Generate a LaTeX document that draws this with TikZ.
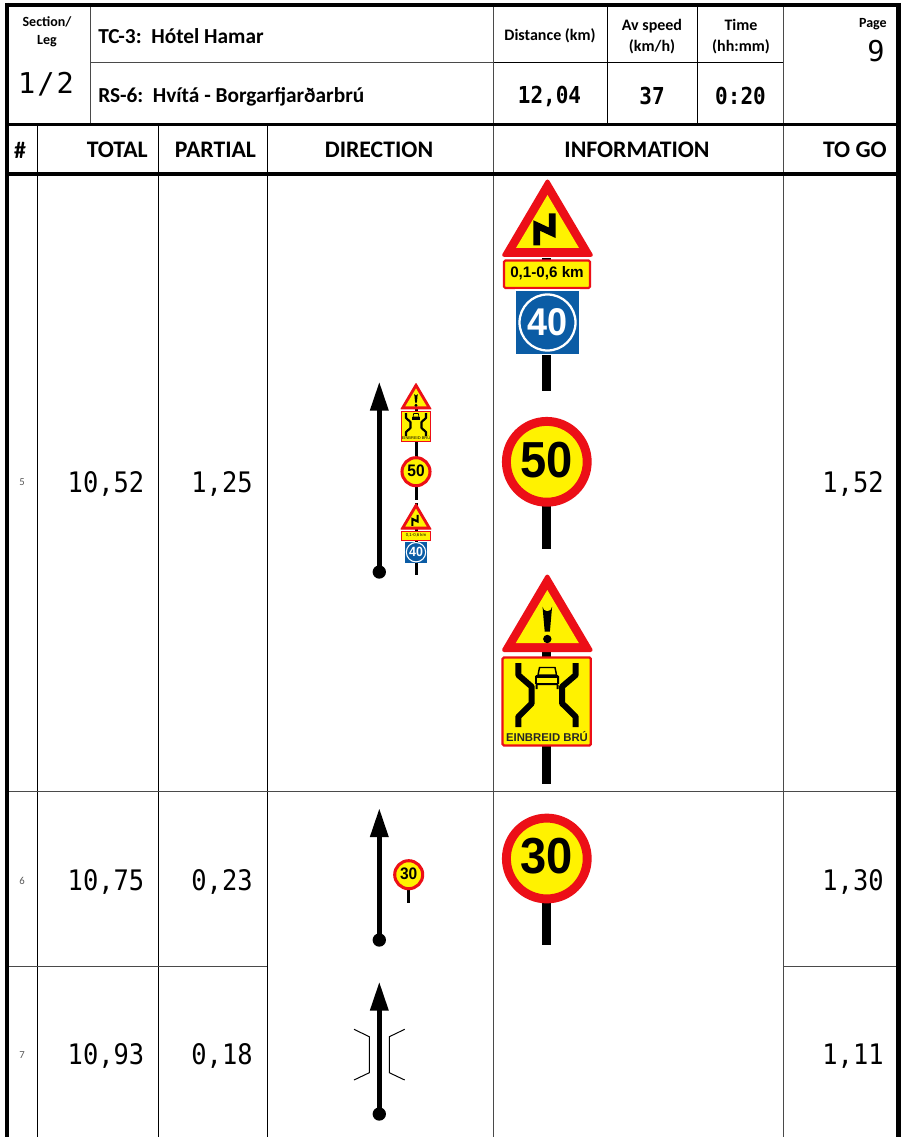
\documentclass[tikz,border=0pt]{standalone}
\usepackage{fontspec}
\setmainfont{Carlito}
\newfontfamily\monof{DejaVu Sans Mono}
\newfontfamily\numf{DejaVu Sans Mono}[FakeStretch=0.9]
\newfontfamily\signf{Liberation Sans}
\newfontfamily\signn{Liberation Sans}[FakeStretch=0.93]
\definecolor{signred}{HTML}{EC0F17}
\definecolor{signyel}{HTML}{FFF200}
\definecolor{signblue}{HTML}{0B5CA5}
\definecolor{grid}{HTML}{4A4A4A}
\tikzset{
  x=0.75pt,y=-0.75pt,
  thinline/.style={draw=grid,line width=0.75pt},
  blackline/.style={draw=black,line width=0.75pt},
  midline/.style={draw=black,line width=2.3pt},
  heavyline/.style={draw=black,line width=3.2pt},
  framev/.style={draw=black,line width=3.3pt},
  frameh/.style={draw=black,line width=3.4pt},
  post/.style={fill=black,draw=none},
  head/.style={font=\bfseries\fontsize{17.8}{20}\selectfont,inner sep=0pt},
  small/.style={font=\bfseries\fontsize{10.5}{13.6}\selectfont,inner sep=0pt,align=center},
  mid/.style={font=\bfseries\fontsize{12}{15.2}\selectfont,inner sep=0pt,align=center},
  title/.style={font=\bfseries\fontsize{16}{18}\selectfont,inner sep=0pt,anchor=west},
  num/.style={font=\numf\fontsize{21.2}{26}\selectfont,inner sep=0pt},
  mono/.style={font=\monof\fontsize{21.5}{26}\selectfont,inner sep=0pt},
  bignum/.style={font=\numf\bfseries\fontsize{17.5}{22}\selectfont,inner sep=0pt},
  idx/.style={font=\fontsize{8}{9}\selectfont,text=black!65,inner sep=0pt},
  route/.style={draw=black,line width=3.6pt},
  arrowhead/.style={fill=black,draw=none},
  startdot/.style={circle,fill=black,draw=none,minimum size=10pt,inner sep=0pt},
  lane/.style={draw=black,line cap=butt,line join=round},
  bigring/.style={circle,draw=signred,fill=signyel,line width=6.7pt,minimum size=60.6pt,inner sep=0pt},
  bigdigits/.style={font=\signn\bfseries\fontsize{38}{38}\selectfont,inner sep=0pt},
  smallring/.style={circle,draw=signred,fill=signyel,line width=2.3pt,minimum size=21pt,inner sep=0pt},
  smalldigits/.style={font=\signn\bfseries\fontsize{12.5}{12.5}\selectfont,inner sep=0pt},
}
% warning triangle: #1 centre x, #2 apex y, #3 scale, #4 symbol
\newcommand{\trisign}[4]{%
  \begin{scope}[shift={(#1,#2)},x=#3*0.75pt,y=-#3*0.75pt]
    \fill[signred,line join=round,draw=signred,line width=#3*3pt] (0,3)--(43.3,76.5)--(-43.3,76.5)--cycle;
    \fill[signyel] (0,16.5)--(31.5,69.5)--(-31.5,69.5)--cycle;
    #4
  \end{scope}}
\begin{document}
\begin{tikzpicture}
\useasboundingbox (0,0) rectangle (903,1137);
\fill[white] (0,0) rectangle (903,1137);
% grid
\draw[thinline] (90,6)--(90,124);
\draw[thinline] (90,62.7)--(493.3,62.7);
\draw[blackline] (493.3,62.7)--(783.5,62.7);
\draw[thinline] (493.3,6)--(493.3,1137);
\draw[blackline] (607.3,6)--(607.3,124);
\draw[blackline] (697.3,6)--(697.3,124);
\draw[thinline] (783.5,6)--(783.5,1137);
\draw[blackline] (37.3,124)--(37.3,1137);
\draw[blackline] (158.5,124)--(158.5,1137);
\draw[blackline] (267.3,124)--(267.3,1137);
\draw[thinline] (9,791)--(896,791);
\draw[thinline] (9,966)--(267.3,966);
\draw[thinline] (783.5,966)--(896,966);
% heavy lines
\draw[midline] (7,124.3)--(898,124.3);
\draw[heavyline] (7,173.8)--(898,173.8);
\draw[frameh] (5,5)--(900.5,5);
\draw[framev] (7,3)--(7,1137);
\draw[framev] (898.3,3)--(898.3,1137);
% header text
\node[small] (sec) at (47,32) {Section/\\Leg};
\node[mono] (leg) at (46,84) {1\kern1.5pt/\kern1.5pt2};
\node[title] (tc) at (98,36.5) {TC-3:\ \ Hótel Hamar};
\node[title] (rs) at (98,97) {RS-6:\ \ Hvítá - Borgarfjarðarbrú};
\node[mid] (dist) at (550,36) {Distance (km)};
\node[mid] (spd) at (652,36.5) {Av speed\\(km/h)};
\node[mid] (tim) at (741,36.5) {Time\\(hh:mm)};
\node[small,anchor=east] (pg) at (887,24) {Page};
\node[mono,anchor=east] (pn) at (885,51) {9};
\node[bignum] (v1) at (549.5,96) {12,04};
\node[bignum] (v2) at (652,96) {37};
\node[bignum] (v3) at (740.5,96) {0:20};
\node[head] (h0) at (20,150) {\#};
\node[head,anchor=east] (h1) at (148,150) {TOTAL};
\node[head] (h2) at (215.5,150) {PARTIAL};
\node[head] (h3) at (379,150) {DIRECTION};
\node[head] (h4) at (637,150) {INFORMATION};
\node[head,anchor=east] (h5) at (887,150) {TO GO};
% rows
\node[idx] (i5) at (22,482) {5};
\node[num] (t5) at (106,484) {10,52};
\node[num] (p5) at (222,484) {1,25};
\node[num] (g5) at (853,484) {1,52};
\node[idx] (i6) at (22,881) {6};
\node[num] (t6) at (106,882) {10,75};
\node[num] (p6) at (222,882) {0,23};
\node[num] (g6) at (853,882) {1,30};
\node[idx] (i7) at (22,1055) {7};
\node[num] (t7) at (106,1056) {10,93};
\node[num] (p7) at (222,1056) {0,18};
\node[num] (g7) at (853,1056) {1,11};
% route arrows
\coordinate (a5) at (379.3,382.5); \coordinate (s5) at (379.3,572);
\coordinate (a6) at (379.3,809); \coordinate (s6) at (379.3,940);
\coordinate (a7) at (379.3,982.5); \coordinate (s7) at (379.3,1114);
\foreach \a/\s in {a5/s5,a6/s6,a7/s7}{
  \draw[route] (\a)++(0,20)--(\s);
  \fill[arrowhead] (\a)--++(9.5,28)--++(-19,0)--cycle;
  \node[startdot] at (\s) {};
}
% big signs: curves, distance plate, 40
\fill[post] (541.7,258) rectangle (551,391);
\trisign{547.5}{178.5}{1}{
  \draw[black,line width=5pt,line join=miter] (-10.8,67)--(-10.8,47)--(4.8,54.3)--(4.8,35);
}
\draw[draw=signred,fill=signyel,line width=1.6pt,rounded corners=1pt] (504,260.5) rectangle (590,288);
\node[font=\signf\bfseries\fontsize{11.4}{12}\selectfont,inner sep=0pt] (km) at (547,273) {0,1-0,6 km};
\fill[white] (515,289.5) rectangle (580,355);
\fill[signblue] (516,291) rectangle (579,354);
\node[circle,draw=white,line width=1.7pt,minimum size=42pt,inner sep=0pt] (r40) at (547.5,322.5) {};
\node[font=\signn\bfseries\fontsize{29}{29}\selectfont,text=white,inner sep=0pt] (s40) at (547.5,322) {40};
% 50
\fill[post] (541.7,500) rectangle (551,549);
\node[bigring] (r50) at (546.8,461.8) {};
\node[bigdigits] (s50) at (546.8,459.8) {50};
% warning + narrow bridge
\fill[post] (541.7,650) rectangle (551,784);
\trisign{547.3}{573.5}{1}{
  \fill[black] (-2.6,58)--(-4.8,33) arc (180:0:4.8)--(2.6,58)--cycle;
  \fill[black] (0,65.5) circle (4.2);
}
\draw[draw=signred,fill=signyel,line width=1.7pt,rounded corners=1pt] (502.6,657.5) rectangle (590.8,745.5);
\draw[lane,line width=4.5pt] (518.3,663)--(518.3,675)--(531.7,686.7)--(531.7,703.3)--(518.3,716.7)--(518.3,727);
\draw[lane,line width=4.5pt] (575.7,663)--(575.7,675)--(562,686.7)--(562,703.3)--(575.7,716.7)--(575.7,727);
\draw[black,line width=1.1pt,line join=round] (538,675)--(539.5,667.5)--(555,667.5)--(556.5,675)--cycle;
\fill[black,rounded corners=1pt] (535,675) rectangle (559,685);
\fill[signyel] (537,678) rectangle (557,682.5);
\fill[black] (535.5,685) rectangle (537.5,689) (556.5,685) rectangle (558.5,689);
\node[font=\signf\bfseries\fontsize{8.5}{9}\selectfont,text=black!85,inner sep=0pt] (eb) at (547,737) {EINBREID BRÚ};
% 30
\fill[post] (541.7,900) rectangle (551,945);
\node[bigring] (r30) at (546.8,858.5) {};
\node[bigdigits] (s30) at (546.8,856.5) {30};
% small signs in the direction column
\fill[post] (414.5,405) rectangle (417.5,575);
\trisign{416}{382.8}{0.34}{
  \fill[black] (-2.6,58)--(-5,33) arc (180:0:5)--(2.6,58)--cycle; \fill[black] (0,66) circle (4.5);
}
\draw[draw=signred,fill=signyel,line width=0.7pt] (401.3,411) rectangle (430.7,441);
\draw[lane,line width=1.6pt] (406,413)--(406,418)--(410.5,422)--(410.5,428)--(406,432)--(406,436);
\draw[lane,line width=1.6pt] (426,413)--(426,418)--(421.5,422)--(421.5,428)--(426,432)--(426,436);
\draw[black,line width=0.5pt] (413,417)--(413.7,413.5)--(418.3,413.5)--(419,417)--cycle;
\fill[black] (412.2,417) rectangle (419.8,420);
\node[font=\signf\fontsize{3}{3}\selectfont,inner sep=0pt] (eb2) at (416,438) {EINBREID BRÚ};
\node[smallring] (r50b) at (416,471.7) {};
\node[smalldigits] (s50b) at (416,471) {50};
\fill[white] (401,500) rectangle (431,503);
\trisign{416}{503}{0.34}{
  \draw[black,line width=1.6pt,line join=miter] (-10.8,67)--(-10.8,47)--(4.8,54.3)--(4.8,35);
}
\draw[draw=signred,fill=signyel,line width=0.6pt] (401.3,531) rectangle (430.7,540);
\node[font=\signf\fontsize{3.2}{3.2}\selectfont,inner sep=0pt] (km2) at (416,535.5) {0,1-0,6 km};
\fill[signblue] (405,541.7) rectangle (427,562.7);
\node[circle,draw=white,line width=0.8pt,minimum size=14.5pt,inner sep=0pt] (r40b) at (416,552.2) {};
\node[font=\signn\bfseries\fontsize{10}{10}\selectfont,text=white,inner sep=0pt] (s40b) at (416,552) {40};
% small 30
\fill[post] (407.3,888) rectangle (410,903);
\node[smallring] (r30b) at (408.7,874.7) {};
\node[smalldigits] (s30b) at (408.7,874.2) {30};
% bridge symbol
\draw[black,line width=0.75pt] (354,1029.3)--(369.3,1036.7)--(369.3,1072.7)--(354,1080);
\draw[black,line width=0.75pt] (404.7,1029.3)--(389.3,1036.7)--(389.3,1072.7)--(404.7,1080);
\end{tikzpicture}
\end{document}
